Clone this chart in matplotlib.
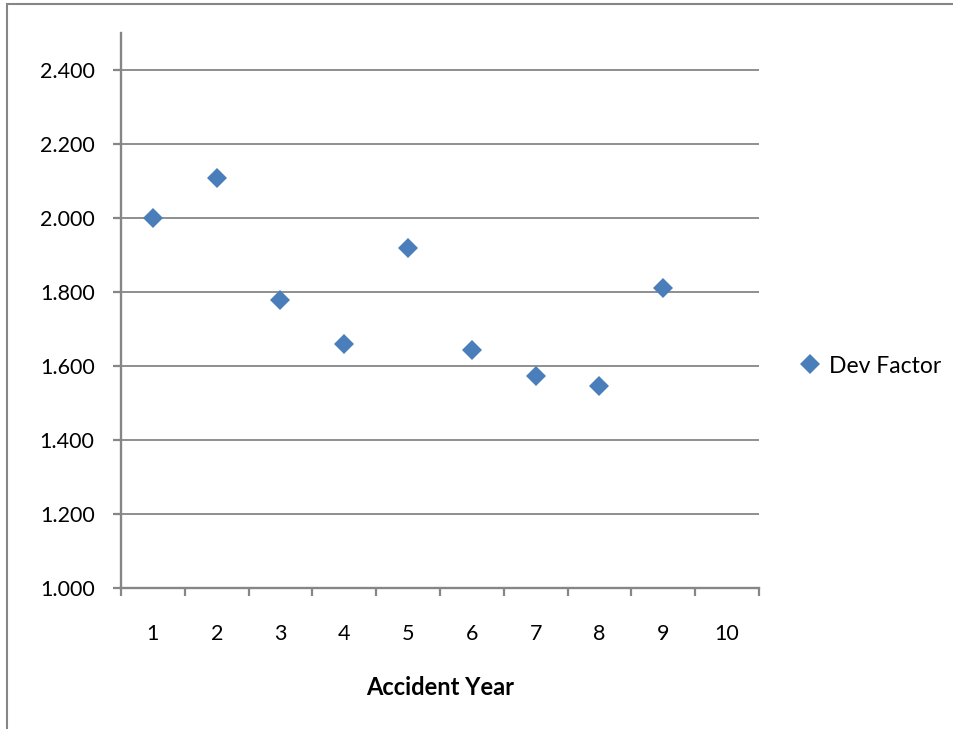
import matplotlib
matplotlib.use("Agg")
import matplotlib.pyplot as plt
from matplotlib.patches import Rectangle

# Development factor by accident year
accident_years = [1, 2, 3, 4, 5, 6, 7, 8, 9]
dev_factor = [2.000, 2.109, 1.779, 1.660, 1.919, 1.643, 1.574, 1.547, 1.812]
category_labels = [str(i) for i in range(1, 11)]
y_ticks = [1.0, 1.2, 1.4, 1.6, 1.8, 2.0, 2.2, 2.4]

plt.rcParams['font.family'] = ['Lato', 'DejaVu Sans']

W, H = 954, 729
fig = plt.figure(figsize=(W / 100, H / 100), dpi=100)
ax = fig.add_axes([121 / W, 141 / H, (759 - 121) / W, (588 - 33) / H])

grey = '#868686'
blue = '#4A7EBB'

# points sit in the middle of each category slot
xs = [y - 0.5 for y in accident_years]
ax.plot(xs, dev_factor, linestyle='none', marker='D', markersize=10,
        color=blue, markeredgewidth=0, label='Dev Factor', zorder=3)

ax.set_xlim(0, 10)
ax.set_ylim(1.0, 2.5)

# y axis
ax.set_yticks(y_ticks)
ax.set_yticklabels([f'{v:.3f}' for v in y_ticks])
ax.tick_params(axis='y', direction='out', length=6, width=1.6, color=grey,
               pad=13, labelsize=15.5)
ax.yaxis.grid(True, color=grey, linewidth=1.3)
ax.set_axisbelow(True)

# x axis: tick marks between categories, labels centred in each slot
ax.set_xticks(range(0, 11))
ax.set_xticklabels([])
ax.set_xticks([i + 0.5 for i in range(10)], minor=True)
ax.set_xticklabels(category_labels, minor=True)
ax.tick_params(axis='x', which='major', direction='out', length=6, width=1.6,
               color=grey)
ax.tick_params(axis='x', which='minor', length=0, pad=26, labelsize=15.5)
ax.set_xlabel('Accident Year', fontsize=17, fontweight='bold', labelpad=23)

for side in ['top', 'right']:
    ax.spines[side].set_visible(False)
for side in ['left', 'bottom']:
    ax.spines[side].set_color(grey)
    ax.spines[side].set_linewidth(1.7)

ax.legend(loc='center left', bbox_to_anchor=(800 / W, 1 - 366 / H),
          bbox_transform=fig.transFigure, frameon=False, fontsize=16.5,
          handlelength=0.9, handletextpad=0.35, borderpad=0, borderaxespad=0)

# chart area border
fig.patches.append(Rectangle((7 / W, -0.05), 1.1, 1 - 4 / H + 0.05,
                             transform=fig.transFigure, fill=False,
                             edgecolor=grey, linewidth=1.5, clip_on=False))

fig.savefig('out.png', dpi=100)
